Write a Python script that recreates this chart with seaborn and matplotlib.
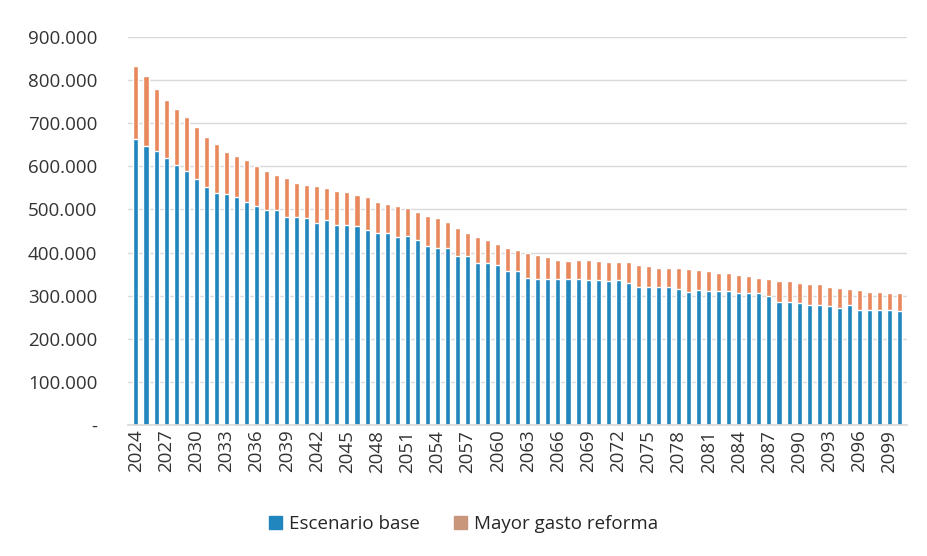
import numpy as np
import pandas as pd
import seaborn as sns
import matplotlib.pyplot as plt
from matplotlib.patches import Patch
from matplotlib.ticker import FuncFormatter

years = list(range(2024, 2101))

# escenario base (parte azul)
base = [663, 648, 635, 620, 603, 590, 571, 553, 538, 536,
        530, 517, 507, 499, 499, 483, 482, 480, 468, 475,
        464, 464, 462, 452, 445, 445, 435, 438, 429, 415,
        411, 410, 392, 392, 376, 376, 371, 358, 358, 342,
        338, 338, 338, 338, 339, 336, 336, 333, 336, 330,
        321, 321, 320, 320, 316, 309, 312, 310, 310, 310,
        306, 306, 306, 300, 286, 286, 283, 278, 278, 275,
        271, 278, 267, 267, 267, 267, 265]

# total = base + mayor gasto reforma (tope naranja)
total = [833, 810, 780, 754, 733, 715, 692, 668, 652, 634,
         624, 615, 602, 590, 580, 573, 561, 557, 555, 549,
         543, 540, 533, 528, 517, 513, 509, 503, 495, 486,
         480, 471, 457, 446, 437, 428, 420, 411, 406, 400,
         394, 390, 383, 381, 383, 383, 380, 379, 379, 377,
         371, 369, 365, 365, 365, 362, 359, 356, 352, 352,
         348, 346, 342, 338, 333, 334, 330, 327, 327, 321,
         317, 315, 313, 309, 309, 307, 306]

df = pd.DataFrame({
    "anio": [str(y) for y in years],
    "base": np.array(base) * 1000,
    "total": np.array(total) * 1000,
})

blue = "#2185BE"
orange = "#E8885C"

sns.set_theme(style="white")
plt.rcParams["font.family"] = ["Open Sans", "DejaVu Sans"]

fig, ax = plt.subplots(figsize=(9.27, 5.56), dpi=100)
fig.subplots_adjust(left=0.138, right=0.978, bottom=0.236, top=0.933)

sns.barplot(data=df, x="anio", y="total", color=orange, width=0.5,
            saturation=1, ax=ax)
sns.barplot(data=df, x="anio", y="base", color=blue, width=0.5,
            saturation=1, ax=ax)

ax.set_ylim(0, 900000)
ax.set_xlim(-0.8, len(years) - 0.3)
ax.set_yticks(range(0, 900001, 100000))
ax.yaxis.set_major_formatter(FuncFormatter(
    lambda v, p: "-" if v == 0 else f"{int(v):,}".replace(",", ".")))
ax.set_xticks(range(0, len(years), 3))
ax.set_xticklabels([str(y) for y in years[::3]], rotation=90)
ax.tick_params(axis="both", labelsize=13.5, colors="#333333", length=0)
ax.tick_params(axis="y", pad=22)
ax.set_xlabel("")
ax.set_ylabel("")
ax.grid(axis="y", color="#d9d9d9", linewidth=1)
ax.set_axisbelow(True)
for s in ["top", "right", "left"]:
    ax.spines[s].set_visible(False)
ax.spines["bottom"].set_color("#d9d9d9")

handles = [Patch(color=blue, label="Escenario base"),
           Patch(color="#C9967C", label="Mayor gasto reforma")]
fig.legend(handles=handles, loc="center", bbox_to_anchor=(0.5, 0.058),
           ncol=2, frameon=False, fontsize=13.5, handlelength=0.7,
           handleheight=0.7, handletextpad=0.4, columnspacing=1.8)

fig.savefig("out.png", dpi=100)
